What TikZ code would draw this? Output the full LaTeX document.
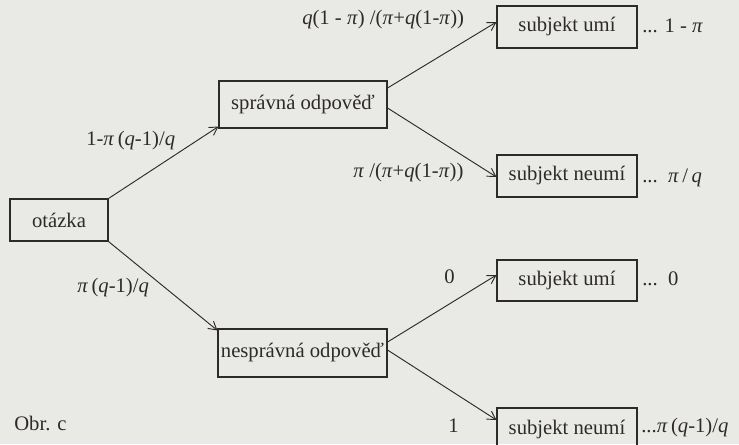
\documentclass[tikz,border=0pt]{standalone}
\usepackage{fontspec}
\setmainfont{Liberation Serif}
\usetikzlibrary{arrows.meta,calc}
\definecolor{paper}{RGB}{233,233,229}
\definecolor{ink}{RGB}{45,42,40}
\tikzset{
  box/.style={draw=ink, line width=0.8pt, rectangle, inner sep=0pt, text=ink,
    font=\fontsize{15.5}{18}\selectfont},
  lbl/.style={anchor=base west, inner sep=0pt, text=ink,
    font=\fontsize{15.5}{18}\selectfont},
  conn/.style={draw=ink, line width=0.7pt, -{Straight Barb[length=6pt,width=7pt]}}
}
\newcommand{\ip}{\textit{π}}
\newcommand{\iq}{\textit{q}}
\begin{document}
\begin{tikzpicture}[x=0.75pt,y=-0.75pt]
\fill[paper] (0,0) rectangle (739,444);
\useasboundingbox (0,0) rectangle (739,444);

\node[box, minimum width=98*0.75pt, minimum height=42*0.75pt] (o) at (59,220) {otázka};
\node[box, minimum width=168*0.75pt, minimum height=47*0.75pt] (s) at (303,104.5) {správná odpověď};
\node[box, minimum width=169*0.75pt, minimum height=48*0.75pt] (ns) at (302.5,353) {nesprávná odpověď};
\node[box, minimum width=140*0.75pt, minimum height=42*0.75pt] (u1) at (567,27) {subjekt umí};
\node[box, minimum width=140*0.75pt, minimum height=42*0.75pt] (n1) at (567,176) {subjekt neumí};
\node[box, minimum width=140*0.75pt, minimum height=41*0.75pt] (u2) at (567,280.5) {subjekt umí};
\node[box, minimum width=140*0.75pt, minimum height=44*0.75pt] (n2) at (567,430) {subjekt neumí};

\draw[conn] (o.north east) -- ($(s.south west)+(0,-2)$);
\draw[conn] (o.south east) -- ($(ns.north west)+(0,2)$);
\draw[conn] ($(s.east)+(0,-16.5)$) -- ($(u1.west)+(0,-5)$);
\draw[conn] ($(s.east)+(0,3.5)$) -- ($(n1.west)+(0,1)$);
\draw[conn] ($(ns.east)+(0,-11)$) -- ($(u2.west)+(0,-5.5)$);
\draw[conn] ($(ns.east)+(0,-3)$) -- ($(n2.west)+(0,-10)$);

\node[lbl] (l1) at (302,24) {\iq(1 - \ip) /(\ip+\iq(1-\ip))};
\node[lbl] (l2) at (86,145) {1-\ip\,(\iq-1)/\iq};
\node[lbl] (l3) at (353,177) {\ip\ /(\ip+\iq(1-\ip))};
\node[lbl] (l4) at (77,292) {\ip\,(\iq-1)/\iq};
\node[lbl] (l5) at (444,283) {0};
\node[lbl] (l6) at (448,432) {1};
\node[lbl] (r1) at (642,32) {... 1 - \ip};
\node[lbl] (r2) at (642,182) {...\ \ \ip\,/\,\iq};
\node[lbl] (r3) at (642,285) {...\ \ 0};
\node[lbl] (r4) at (641,432) {...\ip\,(\iq-1)/\iq};
\node[lbl] (obr) at (14,430) {Obr. c};
\end{tikzpicture}
\end{document}
